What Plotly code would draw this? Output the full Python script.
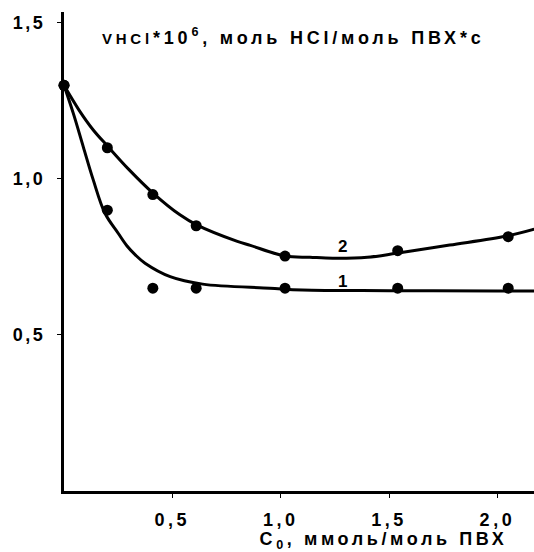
import plotly.graph_objects as go

# Fitted curves
curve1_x = [0, 0.043, 0.089, 0.135, 0.189, 0.25, 0.29, 0.33, 0.374, 0.49, 0.64, 0.95, 1.10, 1.5, 2.0, 2.17]
curve1_y = [1.30, 1.21, 1.103, 0.997, 0.89, 0.826, 0.786, 0.756, 0.73, 0.687, 0.663, 0.65, 0.644, 0.642, 0.641, 0.641]

curve2_x = [0, 0.07, 0.135, 0.204, 0.30, 0.412, 0.535, 0.612, 0.80, 0.86, 1.02, 1.135, 1.24, 1.40, 1.535, 1.78, 2.043, 2.17]
curve2_y = [1.30, 1.22, 1.157, 1.103, 1.03, 0.954, 0.885, 0.853, 0.80, 0.787, 0.753, 0.749, 0.746, 0.749, 0.762, 0.788, 0.817, 0.839]

# Experimental points
pts1_x = [0, 0.20, 0.41, 0.61, 1.02, 1.54, 2.05]
pts1_y = [1.30, 0.90, 0.65, 0.65, 0.65, 0.65, 0.65]
pts2_x = [0, 0.20, 0.41, 0.61, 1.02, 1.54, 2.05]
pts2_y = [1.30, 1.10, 0.95, 0.85, 0.753, 0.77, 0.815]

x_ticks = [0.5, 1.0, 1.5, 2.0]
x_ticklabels = ["0,5", "1,0", "1,5", "2,0"]
y_ticks = [0.5, 1.0, 1.5]
y_ticklabels = ["0,5", "1,0", "1,5"]

FONT = "Liberation Sans, Arial, sans-serif"

fig = go.Figure()
for cx, cy in [(curve1_x, curve1_y), (curve2_x, curve2_y)]:
    fig.add_trace(go.Scatter(x=cx, y=cy, mode="lines",
                             line=dict(color="black", width=3, shape="spline", smoothing=1.0),
                             hoverinfo="skip", cliponaxis=False))
for px_, py_ in [(pts1_x, pts1_y), (pts2_x, pts2_y)]:
    fig.add_trace(go.Scatter(x=px_, y=py_, mode="markers",
                             marker=dict(color="black", size=11, line=dict(width=0)),
                             cliponaxis=False))

bold = dict(family=FONT, size=18, color="black", weight="bold")
fig.add_annotation(x=0.488, y=0.948, xref="paper", yref="paper", xanchor="center", yanchor="middle",
                   text='<span style="font-size:15px">VHCl</span>*10<sup>6</sup>, моль HCl/моль ПВХ*с',
                   showarrow=False, font=bold, name="title")
fig.add_annotation(x=0.68, y=-0.103, xref="paper", yref="paper", xanchor="center", yanchor="middle",
                   text="C<sub>0</sub>, ммоль/моль ПВХ",
                   showarrow=False, font=bold, name="xtitle")
fig.add_annotation(x=1.287, y=0.67, text="1", showarrow=False,
                   font=dict(family=FONT, size=17, color="black", weight="bold"))
fig.add_annotation(x=1.287, y=0.782, text="2", showarrow=False,
                   font=dict(family=FONT, size=17, color="black", weight="bold"))

tickfont = dict(family=FONT, size=18, color="black", weight="bold")
fig.update_layout(
    width=534, height=552,
    margin=dict(l=64, r=0, t=12, b=61),
    paper_bgcolor="white", plot_bgcolor="white",
    showlegend=False,
    font=dict(family=FONT, size=16, color="black"),
    xaxis=dict(range=[0, 2.169], showgrid=False, zeroline=False,
               showline=True, linecolor="black", linewidth=3,
               ticks="outside", ticklen=4, tickwidth=1, tickcolor="black",
               tickvals=x_ticks, ticktext=x_ticklabels, ticklabelstandoff=6,
               tickfont=tickfont),
    yaxis=dict(range=[0, 1.535], showgrid=False, zeroline=False,
               showline=True, linecolor="black", linewidth=3,
               ticks="outside", ticklen=4, tickwidth=1, tickcolor="black",
               tickvals=y_ticks, ticktext=y_ticklabels, ticklabelstandoff=8,
               tickfont=tickfont),
)

post = """
document.querySelectorAll('.xtick text').forEach(function(t){t.style.letterSpacing='3.5px';});
document.querySelectorAll('.ytick text').forEach(function(t){t.style.letterSpacing='2.5px';});
document.querySelectorAll('.annotation-text').forEach(function(t){
  var n = t.textContent.length;
  t.style.letterSpacing = n > 25 ? '3.8px' : (n > 3 ? '3.6px' : '0px');
});
"""
fig.write_html("out.html", post_script=post)
